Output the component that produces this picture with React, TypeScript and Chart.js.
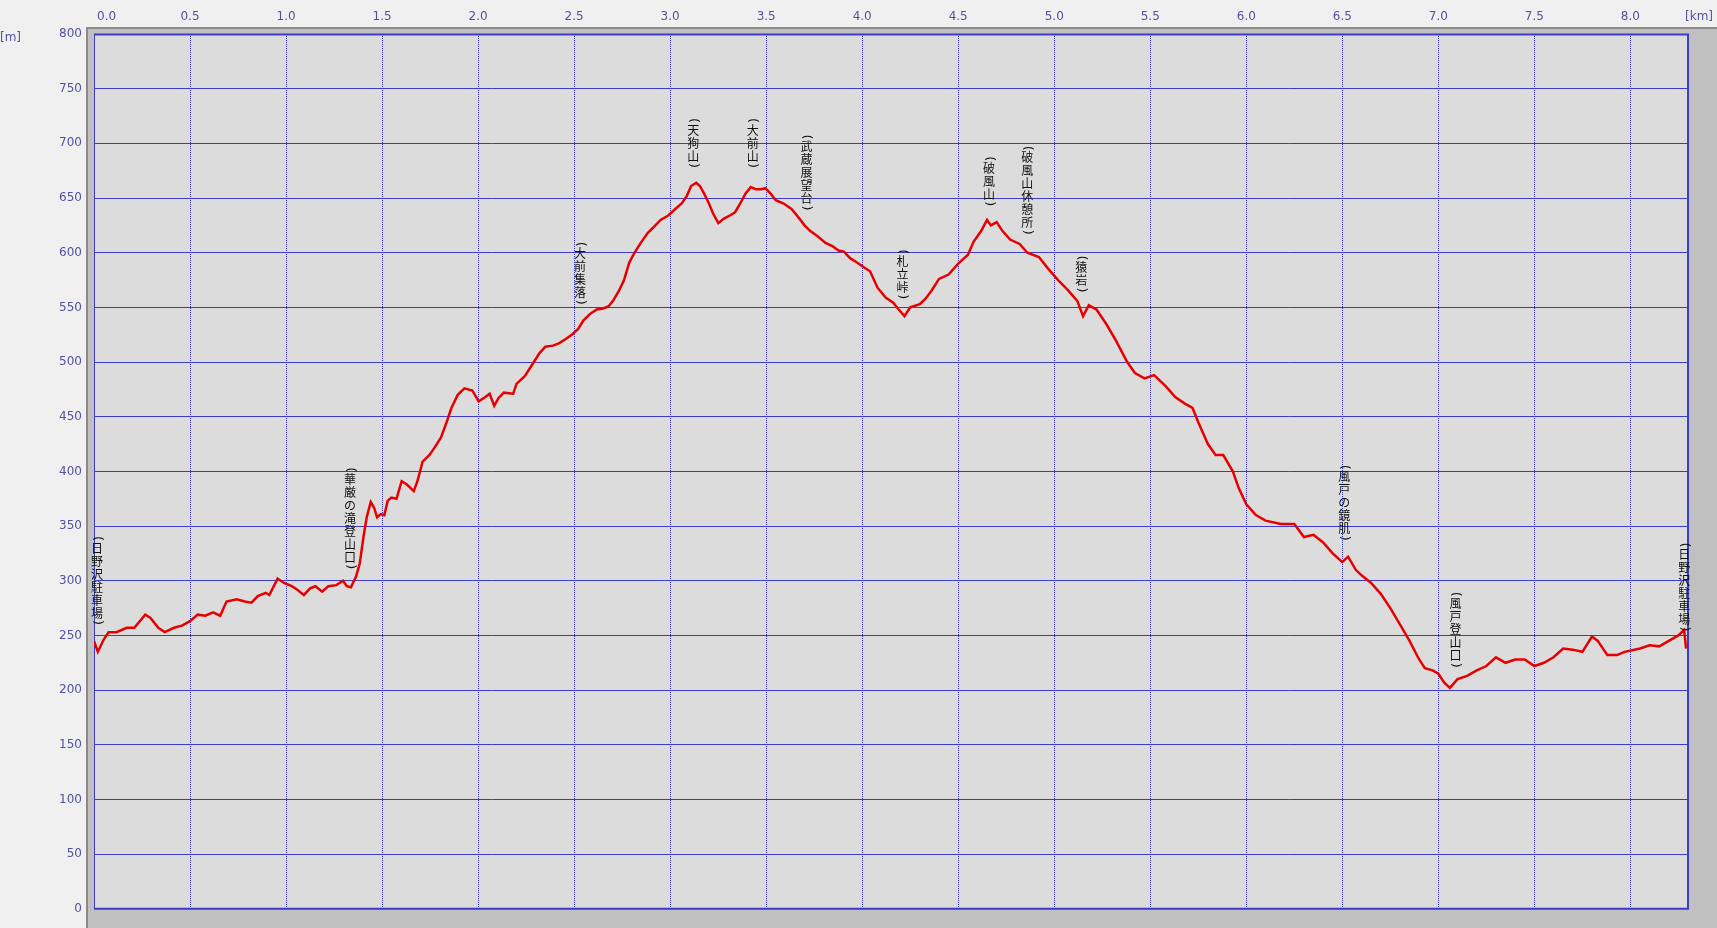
import React, { useEffect, useRef } from "react";
import { Chart, registerables } from "chart.js";
Chart.register(...registerables);

const distKm = [
  0.0, 0.02, 0.05, 0.076, 0.117, 0.17, 0.21, 0.267, 0.294, 0.335, 0.368, 0.417, 0.458, 0.5, 0.54, 0.58, 0.62, 0.657, 0.69,
  0.744, 0.785, 0.82, 0.853, 0.894, 0.913, 0.956, 0.989, 1.03, 1.057, 1.093, 1.125, 1.153, 1.188, 1.22, 1.262, 1.297, 1.316,
  1.338, 1.365, 1.384, 1.403, 1.42, 1.441, 1.458, 1.474, 1.493, 1.512, 1.529, 1.548, 1.575, 1.602, 1.629, 1.665, 1.684, 1.711,
  1.747, 1.774, 1.807, 1.834, 1.861, 1.894, 1.929, 1.97, 2.003, 2.038, 2.06, 2.084, 2.106, 2.134, 2.183, 2.2, 2.243, 2.283,
  2.319, 2.35, 2.39, 2.42, 2.447, 2.488, 2.52, 2.548, 2.583, 2.618, 2.651, 2.68, 2.706, 2.733, 2.76, 2.787, 2.815, 2.847,
  2.883, 2.918, 2.95, 2.99, 3.027, 3.06, 3.087, 3.109, 3.136, 3.155, 3.177, 3.202, 3.223, 3.251, 3.278, 3.311, 3.338, 3.365,
  3.392, 3.42, 3.447, 3.474, 3.496, 3.523, 3.55, 3.591, 3.632, 3.665, 3.7, 3.728, 3.768, 3.809, 3.845, 3.877, 3.905, 3.937,
  3.973, 4.014, 4.041, 4.08, 4.122, 4.163, 4.19, 4.22, 4.25, 4.3, 4.33, 4.36, 4.4, 4.45, 4.5, 4.55, 4.58, 4.62, 4.65, 4.67,
  4.7, 4.73, 4.77, 4.82, 4.86, 4.92, 4.97, 5.02, 5.07, 5.12, 5.15, 5.18, 5.22, 5.27, 5.32, 5.38, 5.42, 5.47, 5.52, 5.58,
  5.63, 5.68, 5.72, 5.75, 5.8, 5.84, 5.88, 5.93, 5.96, 6.0, 6.05, 6.1, 6.18, 6.25, 6.3, 6.35, 6.4, 6.45, 6.5, 6.53, 6.57,
  6.6, 6.65, 6.7, 6.75, 6.8, 6.85, 6.9, 6.93, 6.97, 7.0, 7.03, 7.06, 7.1, 7.15, 7.2, 7.25, 7.3, 7.35, 7.4, 7.45, 7.5, 7.55,
  7.6, 7.65, 7.7, 7.75, 7.8, 7.83, 7.88, 7.93, 7.97, 8.05, 8.1, 8.15, 8.2, 8.25, 8.28, 8.29,
];
const altM = [
  245, 235, 246, 253, 253, 257, 257, 269, 266, 257, 253, 257, 259, 263, 269, 268, 271, 268, 281,
  283, 281, 280, 286, 289, 287, 302, 298, 295, 292, 287, 293, 295, 290, 295, 296, 300, 295,
  294, 304, 316, 340, 358, 372, 367, 358, 361, 360, 373, 376, 375, 391, 388, 382, 391, 409,
  415, 422, 431, 444, 458, 470, 476, 474, 464, 468, 471, 460, 467, 472, 471, 480, 487, 498,
  508, 514, 515, 517, 520, 525, 530, 538, 544, 548, 549, 551, 557, 565, 575, 591, 600, 609,
  618, 624, 630, 634, 640, 645, 652, 661, 664, 661, 654, 645, 636, 627, 631, 634, 637, 645,
  654, 660, 658, 658, 659, 654, 648, 645, 640, 633, 625, 620, 615, 609, 606, 602, 601, 595,
  591, 586, 583, 568, 559, 554, 548, 542, 550, 553, 558, 565, 576, 580, 590, 598, 610, 620, 630, 625,
  628, 620, 612, 608, 600, 596, 585, 575, 566, 556, 542, 552, 548, 535, 520, 500, 490, 485, 488, 478,
  468, 462, 458, 445, 425, 415, 415, 400, 385, 370, 360, 355, 352, 352, 340, 342, 335, 325, 317, 322, 310,
  305, 298, 288, 275, 260, 245, 228, 220, 218, 215, 207, 202, 210, 213, 218, 222, 230, 225, 228, 228, 222, 225,
  230, 238, 237, 235, 249, 245, 232, 232, 235, 238, 241, 240, 245, 250, 255, 238,
];

const xTickValues = [0, 0.5, 1, 1.5, 2, 2.5, 3, 3.5, 4, 4.5, 5, 5.5, 6, 6.5, 7, 7.5, 8];
const xTickLabels = ["0.0", "0.5", "1.0", "1.5", "2.0", "2.5", "3.0", "3.5", "4.0", "4.5", "5.0", "5.5", "6.0", "6.5", "7.0", "7.5", "8.0"];

const spotNames = [
  "日野沢駐車場", "華厳の滝登山口", "大前集落", "天狗山", "大前山", "武蔵展望台", "札立峠",
  "破風山", "破風山休憩所", "猿岩", "風戸の鏡肌", "風戸登山口", "日野沢駐車場",
];
const spotKm = [0.015, 1.333, 2.53, 3.12, 3.43, 3.71, 4.21, 4.66, 4.86, 5.14, 6.51, 7.09, 8.28];
const spotAlt = [259, 310, 552, 677, 677, 638, 557, 642, 616, 563, 336, 220, 253];

const AXIS_COLOR = "#5252a0";
const TICK_FONT = "12px 'DejaVu Sans', Verdana, sans-serif";

const framePlugin = {
  id: "frame",
  beforeDraw(chart: any) {
    const { ctx, chartArea: a } = chart;
    ctx.save();
    ctx.fillStyle = "#c0c0c0";
    ctx.fillRect(a.left - 8, a.top - 7, chart.width - (a.left - 8), chart.height - (a.top - 7));
    ctx.fillStyle = "#8a8a8a";
    ctx.fillRect(a.left - 8, a.top - 7, chart.width - (a.left - 8), 2);
    ctx.fillRect(a.left - 8, a.top - 7, 2, chart.height - (a.top - 7));
    ctx.fillStyle = "#dcdcdc";
    ctx.fillRect(a.left, a.top, a.right - a.left, a.bottom - a.top);
    ctx.restore();
  },
  beforeDatasetsDraw(chart: any) {
    const { ctx, chartArea: a } = chart;
    ctx.save();
    ctx.strokeStyle = "#3c3cc8";
    ctx.lineWidth = 2;
    ctx.beginPath();
    ctx.moveTo(a.left, a.top + 0.5);
    ctx.lineTo(a.right, a.top + 0.5);
    ctx.lineTo(a.right, a.bottom);
    ctx.lineTo(a.left, a.bottom);
    ctx.stroke();
    ctx.lineWidth = 1;
    ctx.beginPath();
    ctx.moveTo(a.left + 0.5, a.top);
    ctx.lineTo(a.left + 0.5, a.bottom);
    ctx.stroke();
    ctx.restore();
  },
  afterDraw(chart: any) {
    const { ctx, chartArea: a, scales } = chart;
    const xs = scales.x;
    const ys = scales.y;
    ctx.save();
    ctx.font = TICK_FONT;
    ctx.fillStyle = AXIS_COLOR;
    ctx.textBaseline = "middle";
    xTickValues.forEach((v, i) => {
      const px = xs.getPixelForValue(v);
      const w = ctx.measureText(xTickLabels[i]).width;
      let left = px - w / 2;
      if (left < a.left + 3) left = a.left + 3;
      ctx.textAlign = "left";
      ctx.fillText(xTickLabels[i], left, 17);
    });
    ctx.textAlign = "right";
    ctx.fillText("[km]", chart.width - 4, 17);
    ctx.textAlign = "left";
    ctx.fillText("[m]", 0, 38);

    ctx.fillStyle = "#111";
    const step = 13;
    spotNames.forEach((name, i) => {
      const cx = xs.getPixelForValue(spotKm[i]);
      let y = ys.getPixelForValue(spotAlt[i]);
      const chars = Array.from(name);
      const drawParen = (ch: string, cyy: number) => {
        ctx.save();
        ctx.translate(cx, cyy);
        ctx.rotate(Math.PI / 2);
        ctx.font = "13px 'DejaVu Sans', sans-serif";
        ctx.textAlign = "center";
        ctx.textBaseline = "middle";
        ctx.fillText(ch, 0, 0);
        ctx.restore();
      };
      drawParen(")", y - 3);
      y -= 6;
      ctx.font = "12px 'Noto Sans CJK JP', sans-serif";
      ctx.textAlign = "center";
      ctx.textBaseline = "middle";
      for (let k = chars.length - 1; k >= 0; k--) {
        ctx.fillText(chars[k], cx, y - step / 2);
        y -= step;
      }
      drawParen("(", y - 3);
    });
    ctx.restore();
  },
};

export default function App() {
  const ref = useRef<HTMLCanvasElement>(null);
  useEffect(() => {
    if (!ref.current) return;
    const data = distKm.map((d, i) => ({ x: d, y: altM[i] }));
    const chart = new Chart(ref.current, {
      type: "line",
      data: {
        datasets: [
          {
            data,
            borderColor: "#e80000",
            borderWidth: 2.5,
            pointRadius: 0,
            tension: 0,
            fill: false,
          },
        ],
      },
      options: {
        animation: false,
        responsive: false,
        devicePixelRatio: 1,
        layout: { padding: { left: 0, right: 29, top: 0, bottom: 10 } },
        plugins: { legend: { display: false }, tooltip: { enabled: false } },
        scales: {
          x: {
            type: "linear",
            position: "top",
            min: 0,
            max: 8.3,
            ticks: { stepSize: 0.5, display: false },
            grid: { color: "#3030b0", lineWidth: 1, drawTicks: false },
            border: { display: false, dash: [1, 1] },
            afterFit: (s: any) => {
              s.height = 34;
            },
          },
          y: {
            type: "linear",
            position: "left",
            min: 0,
            max: 800,
            ticks: {
              stepSize: 50,
              color: AXIS_COLOR,
              font: { family: "'DejaVu Sans', Verdana, sans-serif", size: 12 },
              padding: 12,
            },
            grid: { color: "#3c3cc8", lineWidth: 1, drawTicks: false },
            border: { display: false },
            afterFit: (s: any) => {
              s.width = 94;
            },
          },
        },
      },
      plugins: [framePlugin],
    });
    return () => chart.destroy();
  }, []);
  return (
    <div style={{ position: "fixed", left: 0, top: 0, width: 1717, height: 928, background: "#f0f0f0" }}>
      <canvas ref={ref} width={1717} height={928} style={{ display: "block" }} />
    </div>
  );
}
